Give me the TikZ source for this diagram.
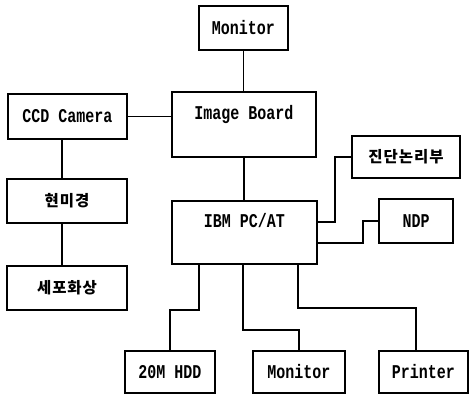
\documentclass[tikz,border=0pt]{standalone}
\usepackage{fontspec}
\usepackage{graphicx}
\newfontfamily\monofnt{Liberation Mono}
\newfontfamily\krfnt[LetterSpace=6]{Noto Sans CJK KR}
\newcommand{\en}[1]{\scalebox{1}[1.3]{\monofnt\bfseries\fontsize{15}{15}\selectfont #1}}
\newcommand{\kt}[1]{{\krfnt\bfseries\fontsize{15.5}{16}\selectfont #1}}
\begin{document}
\begin{tikzpicture}[x=1pt,y=-1pt,
  box/.style={draw,line width=1.6pt,inner sep=0pt},
  lbl/.style={inner sep=0pt},
  conn/.style={line width=1.5pt}]
\useasboundingbox (0,0) rectangle (469,395);
% boxes
\node[box,minimum width=89pt,minimum height=44pt] (mon1) at (243.5,28) {\en{Monitor}};
\node[box,minimum width=144pt,minimum height=65pt] (img) at (244,124.5) {};
\node[lbl] (imgtxt) at (244,115) {\en{Image Board}};
\node[box,minimum width=119pt,minimum height=45pt] (ccd) at (67.5,116.5) {\en{CCD Camera}};
\node[box,minimum width=120pt,minimum height=44pt] (hmg) at (67,201) {\kt{현미경}};
\node[box,minimum width=120pt,minimum height=44pt] (sepo) at (67,288) {\kt{세포화상}};
\node[box,minimum width=145pt,minimum height=63pt] (ibm) at (244.5,232.5) {};
\node[lbl] (ibmtxt) at (244.5,221) {\en{IBM PC/AT}};
\node[box,minimum width=108pt,minimum height=42pt] (jin) at (406,157) {\kt{진단논리부}};
\node[box,minimum width=74pt,minimum height=44pt] (ndp) at (416,221) {\en{NDP}};
\node[box,minimum width=90pt,minimum height=42pt] (hdd) at (170,372) {\en{20M HDD}};
\node[box,minimum width=92pt,minimum height=42pt] (mon2) at (299,372) {\en{Monitor}};
\node[box,minimum width=89pt,minimum height=42pt] (prn) at (423.5,372) {\en{Printer}};
% connectors
\draw[conn] (mon1.south) -- (mon1.south |- img.north);
\draw[line width=0.9pt] (ccd.east) -- (ccd.east -| img.west);
\draw[conn] ([xshift=-5.5pt]ccd.south) -- ([xshift=-5pt]hmg.north);
\draw[conn] ([xshift=-5pt]hmg.south) -- ([xshift=-5pt]sepo.north);
\draw[conn] (img.south) -- (img.south |- ibm.north);
\draw[conn] ([yshift=10.5pt]ibm.east) -- ++(17,0) |- (jin.west);
\draw[conn] ([yshift=-10.5pt]ibm.east) -- ++(45,0) |- (ndp.west);
\draw[conn] ([xshift=-45.5pt]ibm.south) -- ++(0,45) -| (hdd.north);
\draw[conn] ([xshift=-1.5pt]ibm.south) -- ++(0,65) -| (mon2.north);
\draw[conn] ([xshift=53.5pt]ibm.south) -- ++(0,43) -| ([xshift=-7.5pt]prn.north);
\end{tikzpicture}
\end{document}
